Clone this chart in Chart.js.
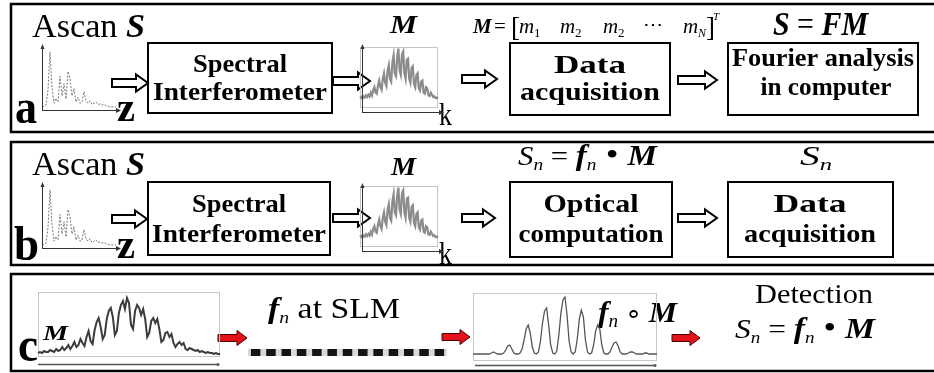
<!DOCTYPE html>
<html>
<head>
<meta charset="utf-8">
<script src="https://cdn.jsdelivr.net/npm/chart.js@4.4.1/dist/chart.umd.min.js"></script>
<style>
  html, body { margin: 0; padding: 0; background: #fff; }
  #wrap { position: relative; width: 934px; height: 373px; overflow: hidden; }
  #wrap canvas { position: absolute; }
</style>
</head>
<body>
<div id="wrap">
  <canvas id="base" width="934" height="373" style="left:0;top:0"></canvas>
  <canvas id="ascanA" width="86" height="74" style="left:38px;top:42px"></canvas>
  <canvas id="ascanB" width="86" height="74" style="left:38px;top:180px"></canvas>
  <canvas id="specA" width="92" height="76" style="left:356px;top:42px"></canvas>
  <canvas id="specB" width="92" height="76" style="left:356px;top:181px"></canvas>
  <canvas id="specC" width="192" height="80" style="left:34px;top:288px"></canvas>
  <canvas id="slm" width="199" height="7" style="left:248px;top:349px"></canvas>
  <canvas id="prodC" width="194" height="80" style="left:469px;top:289px"></canvas>
</div>
<script>
// A-scan (depth profile), relative height
const ascan = [0.02, 0.03, 0.05, 0.3, 0.92, 0.35, 0.08, 0.16, 0.1, 0.52, 0.2, 0.4, 0.15, 0.6, 0.48, 0.2,
  0.32, 0.1, 0.18, 0.08, 0.1, 0.27, 0.12, 0.08, 0.12, 0.06, 0.08, 0.1, 0.06, 0.07, 0.05, 0.06, 0.04, 0.03,
  0.02, 0.02, 0.02, 0.02];
// measured spectrum M (small insets in a and b)
const mSpec = [0.1, 0.12, 0.09, 0.13, 0.11, 0.15, 0.12, 0.16, 0.13, 0.2, 0.15, 0.25, 0.3, 0.2, 0.18, 0.33,
  0.42, 0.3, 0.25, 0.45, 0.55, 0.38, 0.32, 0.6, 0.7, 0.45, 0.4, 0.75, 0.88, 0.55, 0.5, 0.85, 1.0, 0.6, 0.52,
  0.9, 0.95, 0.55, 0.45, 0.8, 0.82, 0.45, 0.38, 0.65, 0.68, 0.36, 0.3, 0.52, 0.55, 0.28, 0.24, 0.4, 0.42,
  0.2, 0.18, 0.3, 0.28, 0.15, 0.14, 0.2, 0.16, 0.12, 0.13, 0.1, 0.11, 0.09];
// spectrum M in panel c (px above baseline)
const mSpecC = [2, 3, 2, 4, 3, 3, 5, 4, 3, 6, 4, 5, 8, 5, 7, 10, 6, 9, 13, 8,
  10, 16, 12, 9, 18, 24, 14, 11, 25, 33, 37, 28, 16, 20, 36, 44, 47, 38, 20, 24, 42, 50, 54, 46, 57, 52,
  30, 26, 44, 50, 47, 40, 46, 36, 18, 22, 34, 37, 32, 36, 26, 13, 15, 22, 23, 18, 21, 12, 8, 11, 13, 10,
  12, 6, 5, 7, 6, 5, 4, 5, 3, 4, 3, 2, 3, 2, 2, 1, 2, 1, 1];
// f_n o M after the SLM (px above baseline)
const prodSpec = [1, 1, 1, 1, 1, 1, 1, 1, 1, 2, 3, 2, 1, 1, 1, 2, 5, 9, 10, 6, 2, 1, 1, 2, 6, 15, 26, 30, 22,
  8, 2, 1, 3, 14, 32, 44, 47, 30, 10, 2, 1, 4, 20, 42, 55, 58, 40, 14, 3, 1, 3, 16, 36, 45, 38, 15, 3, 1, 2,
  10, 24, 30, 26, 10, 2, 1, 1, 3, 8, 12, 13, 9, 3, 1, 1, 1, 2, 3, 3, 2, 1, 1, 1, 1, 2, 2, 1, 1, 1, 1, 1];
// SLM mask f_n, one cell per opaque block
const slmCells = [1, 1, 1, 1, 1, 1, 1, 1, 1, 1, 1, 1, 1];

const SERIF = '"Liberation Serif", "Times New Roman", serif';
const R = (s) => `${s}px ${SERIF}`;
const B = (s) => `bold ${s}px ${SERIF}`;
const I = (s) => `italic ${s}px ${SERIF}`;
const BI = (s) => `italic bold ${s}px ${SERIF}`;

// text runs: [text, font, dy]; fitted to width w
function textRuns(ctx, parts, x, y, w, center) {
  let total = 0;
  parts.forEach((p) => { ctx.font = p[1]; total += ctx.measureText(p[0]).width; });
  const sx = w ? w / total : 1;
  const left = center ? x - (total * sx) / 2 : x;
  ctx.save();
  ctx.fillStyle = '#000';
  ctx.translate(left, y);
  ctx.scale(sx, 1);
  let cx = 0;
  parts.forEach((p) => {
    ctx.font = p[1];
    ctx.fillText(p[0], cx, p[2] || 0);
    cx += ctx.measureText(p[0]).width;
  });
  ctx.restore();
}

function arrow(ctx, x1, x2, cy, fill, stroke, lw, sh, hh, hl) {
  ctx.save();
  ctx.beginPath();
  ctx.moveTo(x1, cy - sh);
  ctx.lineTo(x2 - hl, cy - sh);
  ctx.lineTo(x2 - hl, cy - hh);
  ctx.lineTo(x2, cy);
  ctx.lineTo(x2 - hl, cy + hh);
  ctx.lineTo(x2 - hl, cy + sh);
  ctx.lineTo(x1, cy + sh);
  ctx.closePath();
  ctx.fillStyle = fill;
  ctx.fill();
  ctx.lineWidth = lw;
  ctx.strokeStyle = stroke;
  ctx.stroke();
  ctx.restore();
}
const hollow = (ctx, x1, x2, cy) => arrow(ctx, x1, x2, cy, '#fff', '#000', 2, 4, 8.5, 12);
const red = (ctx, x1, x2, cy) => arrow(ctx, x1, x2, cy, '#e3131b', '#4a0000', 1, 3.5, 7.5, 10);

const diagramPlugin = {
  id: 'diagram',
  afterDraw(chart) {
    const ctx = chart.ctx;
    ctx.save();
    ctx.textBaseline = 'alphabetic';

    // panels
    ctx.strokeStyle = '#000';
    ctx.lineWidth = 2.5;
    ctx.strokeRect(11, 4, 950, 128);
    ctx.strokeRect(11, 142, 950, 123);
    ctx.strokeRect(11, 274, 950, 97);

    // boxes
    ctx.lineWidth = 2;
    [[148, 43, 184, 70], [510, 43, 160, 72], [728, 43, 190, 72],
     [148, 182, 182, 73], [510, 182, 162, 75], [728, 182, 165, 75]]
      .forEach((b) => ctx.strokeRect(b[0], b[1], b[2], b[3]));

    // ---- panel a
    textRuns(ctx, [['Ascan ', R(33)], ['S', BI(33)]], 32, 37, 113);
    textRuns(ctx, [['a', B(48)]], 15, 123, 22);
    textRuns(ctx, [['z', B(42)]], 117, 121, 18);
    textRuns(ctx, [['M', BI(25)]], 390, 33, 27);
    textRuns(ctx, [['k', R(31)]], 439, 125, 13);
    textRuns(ctx, [['Spectral', B(25)]], 240, 72, 94, true);
    textRuns(ctx, [['Interferometer', B(25)]], 240, 100, 174, true);
    textRuns(ctx, [['Data', B(25)]], 590, 73, 72, true);
    textRuns(ctx, [['acquisition', B(25)]], 590, 100, 140, true);
    textRuns(ctx, [['Fourier analysis', B(25)]], 823, 66, 182, true);
    textRuns(ctx, [['in computer', B(25)]], 826, 95, 131, true);
    textRuns(ctx, [['S', BI(34)], [' = ', R(34)], ['FM', BI(34)]], 773, 35, 95);
    // M = [m1 m2 m2 ... mN]^T
    ctx.fillStyle = '#000';
    [['M', BI(21), 473, 33], ['=', R(21), 494, 33], ['[', R(27), 511, 36],
     ['m', I(21), 519, 33], ['1', R(13), 534, 37], ['m', I(21), 560, 33], ['2', R(13), 575, 37],
     ['m', I(21), 603, 33], ['2', R(13), 618, 37], ['\u22EF', R(20), 643, 31],
     ['m', I(21), 683, 33], ['N', I(12), 698, 37], [']', R(27), 706, 36], ['T', I(11), 713, 20]]
      .forEach((p) => { ctx.font = p[1]; ctx.fillText(p[0], p[2], p[3]); });

    hollow(ctx, 112, 148, 83);
    hollow(ctx, 333, 370, 81);
    hollow(ctx, 462, 497, 79);
    hollow(ctx, 678, 717, 80);

    // ---- panel b
    textRuns(ctx, [['Ascan ', R(33)], ['S', BI(33)]], 32, 175, 113);
    textRuns(ctx, [['b', B(48)]], 14, 260, 25);
    textRuns(ctx, [['z', B(42)]], 117, 258, 18);
    textRuns(ctx, [['M', BI(25)]], 391, 175, 25);
    textRuns(ctx, [['k', R(31)]], 439, 264, 13);
    textRuns(ctx, [['Spectral', B(25)]], 239, 212, 94, true);
    textRuns(ctx, [['Interferometer', B(25)]], 239, 242, 174, true);
    textRuns(ctx, [['Optical', B(25)]], 591, 212, 95, true);
    textRuns(ctx, [['computation', B(25)]], 591, 242, 145, true);
    textRuns(ctx, [['Data', B(25)]], 810, 212, 73, true);
    textRuns(ctx, [['acquisition', B(25)]], 810, 242, 132, true);
    textRuns(ctx, [['S', I(27)], ['n', I(17), 5], [' = ', R(27)], ['f', BI(29)], ['n', I(17), 5],
      [' \u2022 ', R(32)], ['M', BI(29)]], 518, 165, 139);
    textRuns(ctx, [['S', I(27)], ['n', I(17), 5]], 800, 165, 32);

    hollow(ctx, 112, 147, 219);
    hollow(ctx, 333, 370, 218);
    hollow(ctx, 462, 495, 218);
    hollow(ctx, 678, 717, 218);

    // ---- panel c
    textRuns(ctx, [['c', B(48)]], 18, 361, 20);
    textRuns(ctx, [['M', BI(21)]], 43, 340, 25);
    textRuns(ctx, [['f', BI(29)], ['n', I(17), 5], [' at SLM', R(29)]], 268, 318, 132);
    textRuns(ctx, [['f', BI(30)], ['n', I(18), 5], [' \u2218 ', R(26)], ['M', BI(30)]], 598, 322, 79);
    textRuns(ctx, [['Detection', R(28)]], 755, 303, 118);
    textRuns(ctx, [['S', I(28)], ['n', I(17), 5], [' = ', R(28)], ['f', BI(30)], ['n', I(17), 5],
      [' \u2022 ', R(32)], ['M', BI(30)]], 735, 338, 140);

    red(ctx, 218, 247, 338);
    red(ctx, 442, 470, 337);
    red(ctx, 672, 700, 338);
    ctx.restore();
  },
  beforeDraw(chart) {
    const ctx = chart.ctx;
    ctx.save();
    ctx.fillStyle = '#fff';
    ctx.fillRect(0, 0, chart.width, chart.height);
    ctx.restore();
  }
};

new Chart(document.getElementById('base'), {
  type: 'scatter',
  data: { datasets: [] },
  options: {
    responsive: false, animation: false, events: [],
    plugins: { legend: { display: false }, tooltip: { enabled: false } },
    scales: { x: { display: false }, y: { display: false } }
  },
  plugins: [diagramPlugin]
});

// frame and axis lines of the small plots
const axesPlugin = {
  id: 'axes',
  beforeDraw(chart, args, o) {
    if (!o.frame) return;
    const { ctx, chartArea: a } = chart;
    ctx.save();
    ctx.strokeStyle = o.frame;
    ctx.lineWidth = 1;
    ctx.strokeRect(a.left + 0.5, a.top + 0.5, a.right - a.left - 1, a.bottom - a.top - 1);
    ctx.restore();
  },
  afterDraw(chart, args, o) {
    const { ctx, chartArea: a } = chart;
    ctx.save();
    ctx.strokeStyle = o.color;
    ctx.fillStyle = o.color;
    ctx.lineWidth = o.width;
    if (o.xAxis) {
      const y = a.bottom + o.xAxis.dy + 0.5;
      const x0 = a.left + o.xAxis.x0, x1 = a.right + o.xAxis.x1;
      ctx.beginPath(); ctx.moveTo(x0, y); ctx.lineTo(x1, y); ctx.stroke();
      ctx.beginPath();
      if (o.xAxis.tip === 'dot') {
        ctx.arc(x1, y, 1.5, 0, Math.PI * 2);
      } else {
        ctx.moveTo(x1 + 3, y); ctx.lineTo(x1 - 2, y - 2.5); ctx.lineTo(x1 - 2, y + 2.5);
      }
      ctx.fill();
    }
    if (o.yAxis) {
      const x = a.left + o.yAxis.dx + 0.5;
      const y0 = a.bottom + o.yAxis.y0, y1 = a.top + o.yAxis.y1;
      ctx.beginPath(); ctx.moveTo(x, y0); ctx.lineTo(x, y1); ctx.stroke();
      ctx.beginPath();
      ctx.moveTo(x, y1 - 3); ctx.lineTo(x - 2, y1 + 2); ctx.lineTo(x + 2, y1 + 2);
      ctx.fill();
    }
    ctx.restore();
  }
};

function lineChart(id, values, yMin, yMax, color, width, dash, padding, axes) {
  return new Chart(document.getElementById(id), {
    type: 'line',
    data: {
      labels: values.map((v, i) => i),
      datasets: [{ data: values, borderColor: color, borderWidth: width, borderDash: dash,
        pointRadius: 0, tension: 0, fill: false }]
    },
    options: {
      responsive: false, animation: false, events: [],
      layout: { padding },
      plugins: { legend: { display: false }, tooltip: { enabled: false }, axes },
      scales: { x: { display: false }, y: { display: false, min: yMin, max: yMax } }
    },
    plugins: [axesPlugin]
  });
}

const ascanAxes = { color: '#333', width: 1, frame: null,
  xAxis: { dy: 0, x0: 0, x1: 2, tip: 'arrow' }, yAxis: { dx: 0, y0: 0, y1: 0 } };
lineChart('ascanA', ascan, -0.03, 1, '#7a7a7a', 1, [2, 1.5], { left: 4, top: 5, right: 8, bottom: 6 }, ascanAxes);
lineChart('ascanB', ascan, -0.03, 1, '#7a7a7a', 1, [2, 1.5], { left: 4, top: 5, right: 8, bottom: 6 }, ascanAxes);

const specAxes = { color: '#333', width: 1, frame: '#c4c4c4',
  xAxis: { dy: 4, x0: 2, x1: 3, tip: 'arrow' }, yAxis: { dx: 2, y0: 4, y1: 0 } };
lineChart('specA', mSpec, -0.08, 1.03, '#8c8c8c', 2.2, [], { left: 4, top: 5, right: 10, bottom: 10 }, specAxes);
lineChart('specB', mSpec, -0.08, 1.03, '#8c8c8c', 2.2, [], { left: 4, top: 5, right: 10, bottom: 10 }, specAxes);

lineChart('specC', mSpecC, -2, 63, '#3c3c3c', 2, [], { left: 4, top: 4, right: 6, bottom: 11 },
  { color: '#555', width: 1.5, frame: '#c8c8c8', xAxis: { dy: 7, x0: 0, x1: -2, tip: 'dot' }, yAxis: null });
lineChart('prodC', prodSpec, -6, 62, '#555', 1.3, [], { left: 4, top: 4, right: 6, bottom: 8 },
  { color: '#555', width: 1.5, frame: '#c8c8c8', xAxis: { dy: 4, x0: 2, x1: -2, tip: 'dot' }, yAxis: null });

// SLM mask strip
const stripPlugin = {
  id: 'strip',
  beforeDatasetsDraw(chart) {
    const { ctx, chartArea: a } = chart;
    ctx.save();
    ctx.fillStyle = '#d9d9d9';
    ctx.fillRect(a.left, a.top, a.right - a.left, a.bottom - a.top);
    ctx.restore();
  }
};
new Chart(document.getElementById('slm'), {
  type: 'bar',
  data: {
    labels: slmCells.map((v, i) => i),
    datasets: [{ data: slmCells, backgroundColor: '#141414', borderWidth: 0,
      barPercentage: 0.62, categoryPercentage: 1 }]
  },
  options: {
    responsive: false, animation: false, events: [],
    layout: { padding: 0 },
    plugins: { legend: { display: false }, tooltip: { enabled: false } },
    scales: { x: { display: false }, y: { display: false, min: 0, max: 1 } }
  },
  plugins: [stripPlugin]
});
</script>
</body>
</html>
